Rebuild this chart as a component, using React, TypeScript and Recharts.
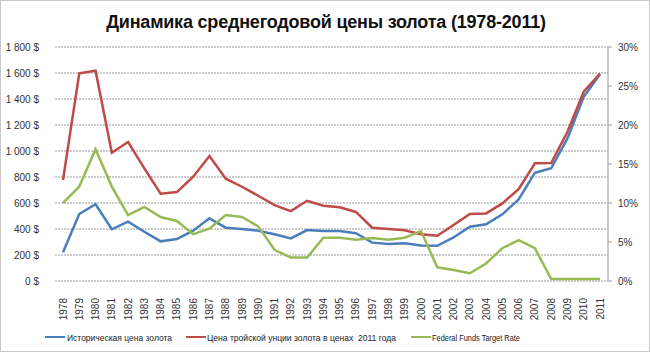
import { LineChart, Line, XAxis, YAxis, CartesianGrid } from "recharts";

const years = [
  "1978", "1979", "1980", "1981", "1982", "1983", "1984", "1985", "1986", "1987",
  "1988", "1989", "1990", "1991", "1992", "1993", "1994", "1995", "1996", "1997",
  "1998", "1999", "2000", "2001", "2002", "2003", "2004", "2005", "2006", "2007",
  "2008", "2009", "2010", "2011",
];

// историческая цена, $
const historical = [
  221, 515, 590, 398, 456, 379, 305, 323, 387, 482,
  410, 400, 387, 359, 328, 392, 384, 384, 367, 295,
  285, 290, 274, 271, 335, 418, 436, 513, 628, 833,
  867, 1097, 1417, 1590,
];

// цена в ценах 2011 года, $
const real2011 = [
  777, 1597, 1617, 987, 1069, 867, 671, 684, 802, 961,
  787, 725, 656, 584, 538, 617, 579, 567, 531, 410,
  400, 390, 359, 348, 431, 515, 520, 597, 707, 905,
  907, 1148, 1456, 1596,
];

// Federal Funds Target Rate, %
const fedRate = [
  10, 12.1, 16.9, 12.1, 8.46, 9.5, 8.2, 7.7, 6.0, 6.7,
  8.46, 8.2, 7.0, 4.0, 3.0, 3.0, 5.55, 5.55, 5.3, 5.5,
  5.3, 5.55, 6.4, 1.75, 1.4, 1.0, 2.25, 4.2, 5.25, 4.2,
  0.25, 0.25, 0.25, 0.25,
];

const leftTicks = [0, 200, 400, 600, 800, 1000, 1200, 1400, 1600, 1800];
const rightTicks = [0, 5, 10, 15, 20, 25, 30];

const BLUE = "#4a7ebb";
const RED = "#be4b48";
const GREEN = "#98b954";
const FONT = "'Liberation Sans', Arial, sans-serif";

const data = years.map((y, i) => ({
  year: y,
  hist: historical[i],
  real: real2011[i],
  rate: fedRate[i],
}));

const formatDollar = (v: number) =>
  v >= 1000 ? `${Math.floor(v / 1000)}\u00a0${String(v % 1000).padStart(3, "0")} $` : `${v} $`;

function YearTick(props: any) {
  const { x, y, payload } = props;
  return (
    <g transform={`translate(${x},${y})`}>
      <text
        transform="rotate(-90)"
        x={-9}
        dy="0.35em"
        textAnchor="end"
        fontSize={10}
        fontFamily={FONT}
        fill="#333"
      >
        {payload.value}
      </text>
    </g>
  );
}

// legend: sample line start, text start, text width (Calibri-like narrow text)
const legendItems = [
  { label: "Историческая цена золота", color: BLUE, x: 45, tx: 67, tw: 105 },
  { label: "Цена тройской унции золота в ценах  2011 года", color: RED, x: 186, tx: 207, tw: 189 },
  { label: "Federal Funds Target Rate", color: GREEN, x: 411, tx: 432, tw: 88 },
];

export default function App() {
  return (
    <div
      style={{
        position: "absolute",
        left: 0,
        top: 0,
        width: 650,
        height: 352,
        background: "#fff",
        border: "1px solid #c8c8c8",
        boxSizing: "border-box",
        fontFamily: FONT,
      }}
    >
      <div
        style={{
          position: "absolute",
          top: 11,
          left: 0,
          width: 650,
          textAlign: "center",
          fontSize: 18,
          letterSpacing: -0.2,
          fontWeight: "bold",
          color: "#111",
        }}
      >
        Динамика среднегодовой цены золота (1978-2011)
      </div>
      <div style={{ position: "absolute", left: -1, top: -1 }}>
        <LineChart
          width={650}
          height={352}
          data={data}
          margin={{ top: 47, right: 0, bottom: 0, left: 0 }}
        >
          <CartesianGrid
            yAxisId="usd"
            vertical={false}
            stroke="#9a9a9a"
            strokeDasharray="2 1"
          />
          <XAxis
            dataKey="year"
            height={71}
            padding={{ left: 8, right: 8 }}
            interval={0}
            tick={<YearTick />}
            tickLine={false}
            axisLine={false}
          />
          <YAxis
            yAxisId="usd"
            width={55}
            domain={[0, 1800]}
            ticks={leftTicks}
            tickFormatter={formatDollar}
            axisLine={false}
            tickLine={false}
            tickMargin={10}
            tick={{ fontSize: 10, fontFamily: FONT, fill: "#333" }}
          />
          <YAxis
            yAxisId="pct"
            orientation="right"
            width={42}
            domain={[0, 30]}
            ticks={rightTicks}
            tickFormatter={(v: number) => `${v}%`}
            axisLine={{ stroke: "#9a9a9a" }}
            tickLine={{ stroke: "#9a9a9a" }}
            tickSize={4}
            tickMargin={6}
            tick={{ fontSize: 10, fontFamily: FONT, fill: "#333" }}
          />
          <Line
            yAxisId="usd"
            dataKey="hist"
            stroke={BLUE}
            strokeWidth={2.5}
            dot={false}
            isAnimationActive={false}
          />
          <Line
            yAxisId="usd"
            dataKey="real"
            stroke={RED}
            strokeWidth={2.5}
            dot={false}
            isAnimationActive={false}
          />
          <Line
            yAxisId="pct"
            dataKey="rate"
            stroke={GREEN}
            strokeWidth={2.5}
            dot={false}
            isAnimationActive={false}
          />
        </LineChart>
      </div>
      <svg
        width={650}
        height={30}
        style={{ position: "absolute", left: -1, top: 321 }}
      >
        {legendItems.map((it) => (
          <g key={it.label}>
            <line x1={it.x} x2={it.x + 20} y1={15} y2={15} stroke={it.color} strokeWidth={2} />
            <text
              x={it.tx}
              y={19}
              fontSize={9}
              fontFamily={FONT}
              fill="#222"
              textLength={it.tw}
              lengthAdjust="spacingAndGlyphs"
              style={{ whiteSpace: "pre" }}
            >
              {it.label}
            </text>
          </g>
        ))}
      </svg>
    </div>
  );
}
